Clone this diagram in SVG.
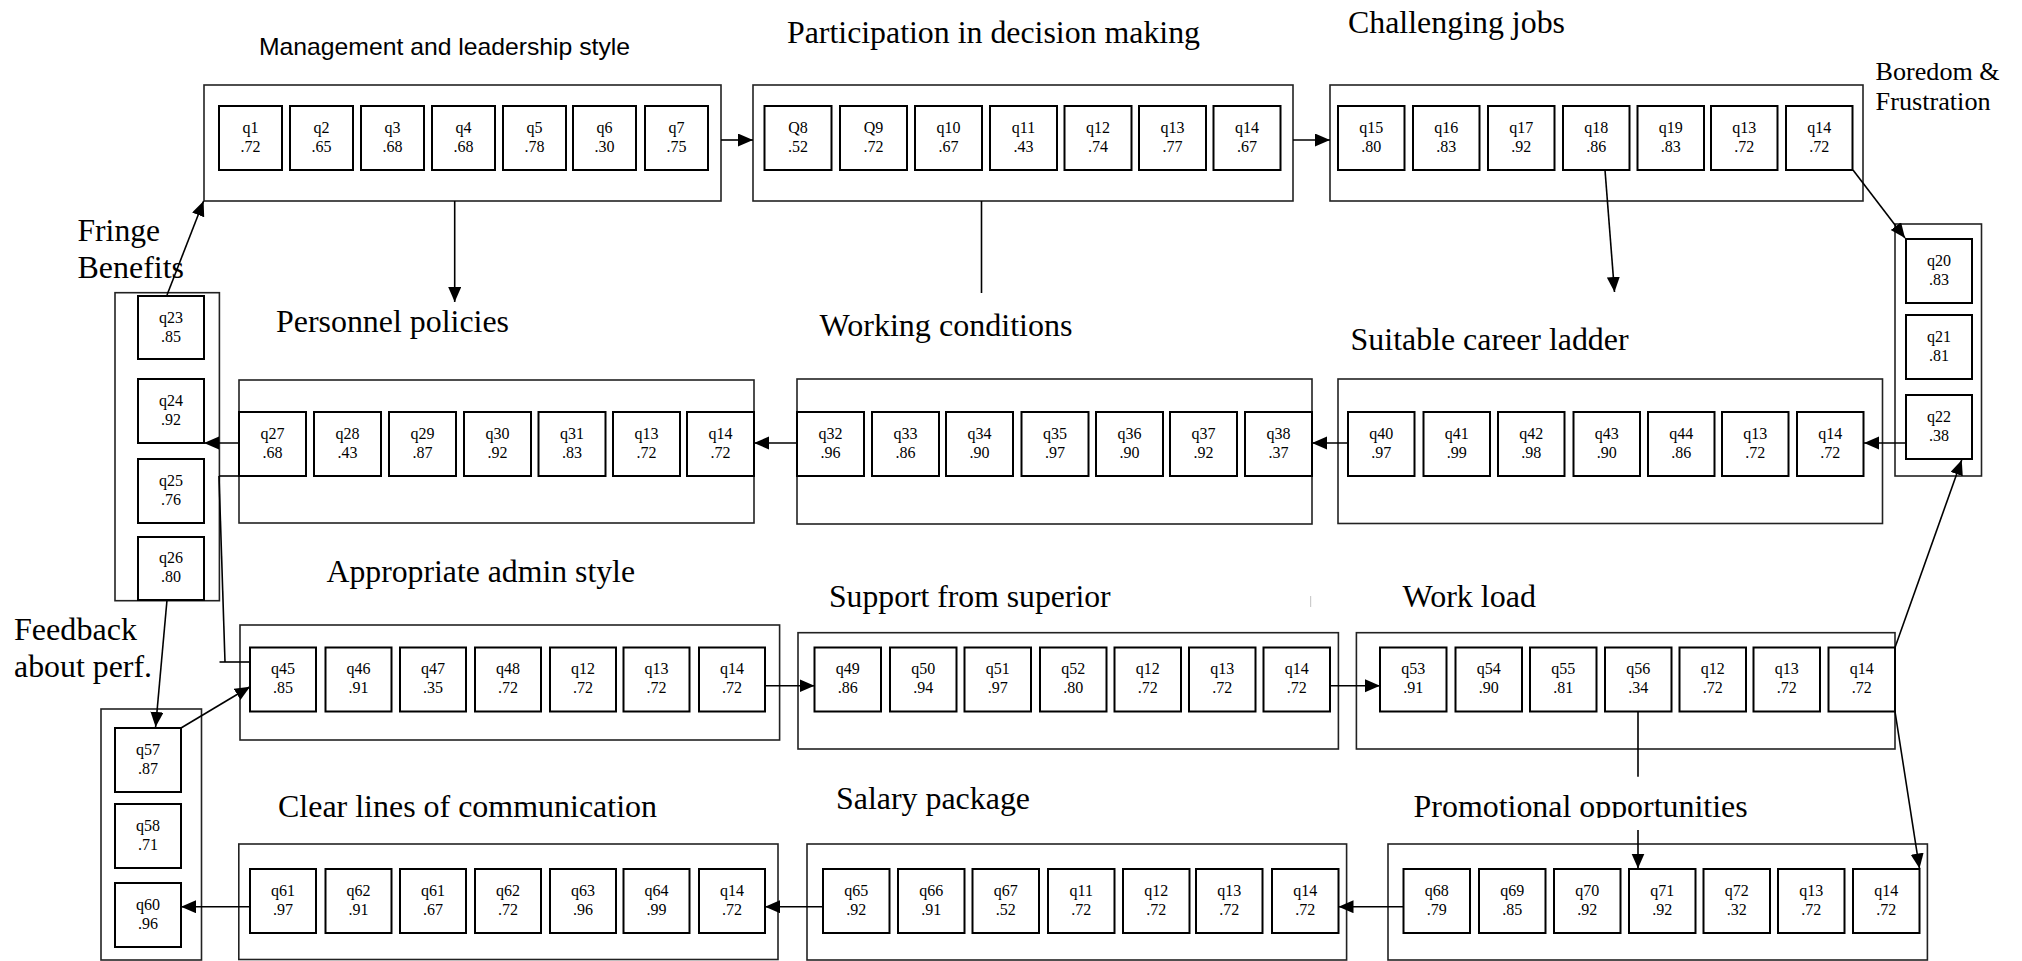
<svg xmlns="http://www.w3.org/2000/svg" width="2022" height="961" viewBox="0 0 2022 961">
  <style>
    .outer { fill: none; stroke: #222; stroke-width: 1.6; }
    .cell rect { fill: #fff; stroke: #000; stroke-width: 2; }
    .cell text { font-family: "Liberation Serif", "Times New Roman", serif; font-size: 16px; text-anchor: middle; fill: #000; }
    .title { font-family: "Liberation Serif", "Times New Roman", serif; font-size: 32px; fill: #000; }
    .title-sans { font-family: "Liberation Sans", Arial, sans-serif; font-size: 24px; fill: #000; }
    .title-sm { font-family: "Liberation Serif", "Times New Roman", serif; font-size: 26px; fill: #000; }
    .conn line, .conn polyline { stroke: #000; stroke-width: 1.6; fill: none; }
    .arrow { marker-end: url(#ah); }
  </style>
  <defs>
    <marker id="ah" markerUnits="userSpaceOnUse" markerWidth="16" markerHeight="14" refX="15" refY="6.5" orient="auto">
      <path d="M0,0 L15,6.5 L0,13 z" fill="#000"/>
    </marker>
    <clipPath id="promo-clip">
      <rect x="1400" y="770" width="400" height="48"/>
    </clipPath>
  </defs>
  <rect width="2022" height="961" fill="#fff"/>

  <!-- Management and leadership style -->
  <g id="management">
    <text class="title-sans" x="259" y="55" textLength="371" lengthAdjust="spacingAndGlyphs">Management and leadership style</text>
    <rect class="outer" x="204" y="85" width="517" height="116"/>
    <g class="cell"><rect x="219" y="106" width="63" height="64"/><text x="250.5" y="132.5">q1<tspan x="250.5" y="151.5">.72</tspan></text></g>
    <g class="cell"><rect x="290" y="106" width="63" height="64"/><text x="321.5" y="132.5">q2<tspan x="321.5" y="151.5">.65</tspan></text></g>
    <g class="cell"><rect x="361" y="106" width="63" height="64"/><text x="392.5" y="132.5">q3<tspan x="392.5" y="151.5">.68</tspan></text></g>
    <g class="cell"><rect x="432" y="106" width="63" height="64"/><text x="463.5" y="132.5">q4<tspan x="463.5" y="151.5">.68</tspan></text></g>
    <g class="cell"><rect x="503" y="106" width="63" height="64"/><text x="534.5" y="132.5">q5<tspan x="534.5" y="151.5">.78</tspan></text></g>
    <g class="cell"><rect x="573" y="106" width="63" height="64"/><text x="604.5" y="132.5">q6<tspan x="604.5" y="151.5">.30</tspan></text></g>
    <g class="cell"><rect x="645" y="106" width="63" height="64"/><text x="676.5" y="132.5">q7<tspan x="676.5" y="151.5">.75</tspan></text></g>
  </g>

  <!-- Participation in decision making -->
  <g id="participation">
    <text class="title" x="787" y="43" textLength="413" lengthAdjust="spacingAndGlyphs">Participation in decision making</text>
    <rect class="outer" x="753" y="85" width="540" height="116"/>
    <g class="cell"><rect x="764.5" y="106" width="67" height="64"/><text x="798" y="132.5">Q8<tspan x="798" y="151.5">.52</tspan></text></g>
    <g class="cell"><rect x="840" y="106" width="67" height="64"/><text x="873.5" y="132.5">Q9<tspan x="873.5" y="151.5">.72</tspan></text></g>
    <g class="cell"><rect x="915" y="106" width="67" height="64"/><text x="948.5" y="132.5">q10<tspan x="948.5" y="151.5">.67</tspan></text></g>
    <g class="cell"><rect x="990" y="106" width="67" height="64"/><text x="1023.5" y="132.5">q11<tspan x="1023.5" y="151.5">.43</tspan></text></g>
    <g class="cell"><rect x="1064.5" y="106" width="67" height="64"/><text x="1098" y="132.5">q12<tspan x="1098" y="151.5">.74</tspan></text></g>
    <g class="cell"><rect x="1139" y="106" width="67" height="64"/><text x="1172.5" y="132.5">q13<tspan x="1172.5" y="151.5">.77</tspan></text></g>
    <g class="cell"><rect x="1213.5" y="106" width="67" height="64"/><text x="1247" y="132.5">q14<tspan x="1247" y="151.5">.67</tspan></text></g>
  </g>

  <!-- Challenging jobs -->
  <g id="challenging">
    <text class="title" x="1348" y="33" textLength="217" lengthAdjust="spacingAndGlyphs">Challenging jobs</text>
    <rect class="outer" x="1330" y="85" width="533" height="116"/>
    <g class="cell"><rect x="1338" y="106" width="66.5" height="64"/><text x="1371.25" y="132.5">q15<tspan x="1371.25" y="151.5">.80</tspan></text></g>
    <g class="cell"><rect x="1413" y="106" width="66.5" height="64"/><text x="1446.25" y="132.5">q16<tspan x="1446.25" y="151.5">.83</tspan></text></g>
    <g class="cell"><rect x="1488" y="106" width="66.5" height="64"/><text x="1521.25" y="132.5">q17<tspan x="1521.25" y="151.5">.92</tspan></text></g>
    <g class="cell"><rect x="1563" y="106" width="66.5" height="64"/><text x="1596.25" y="132.5">q18<tspan x="1596.25" y="151.5">.86</tspan></text></g>
    <g class="cell"><rect x="1637.5" y="106" width="66.5" height="64"/><text x="1670.75" y="132.5">q19<tspan x="1670.75" y="151.5">.83</tspan></text></g>
    <g class="cell"><rect x="1711" y="106" width="66.5" height="64"/><text x="1744.25" y="132.5">q13<tspan x="1744.25" y="151.5">.72</tspan></text></g>
    <g class="cell"><rect x="1786" y="106" width="66.5" height="64"/><text x="1819.25" y="132.5">q14<tspan x="1819.25" y="151.5">.72</tspan></text></g>
  </g>

  <!-- Boredom & Frustration -->
  <g id="boredom">
    <text class="title-sm" x="1875.6" y="80" textLength="124" lengthAdjust="spacingAndGlyphs">Boredom &amp;</text>
    <text class="title-sm" x="1875.6" y="110" textLength="115" lengthAdjust="spacingAndGlyphs">Frustration</text>
    <rect class="outer" x="1895" y="224" width="86.5" height="252"/>
    <g class="cell"><rect x="1906" y="239" width="66" height="64"/><text x="1939" y="265.5">q20<tspan x="1939" y="284.5">.83</tspan></text></g>
    <g class="cell"><rect x="1906" y="315" width="66" height="64"/><text x="1939" y="341.5">q21<tspan x="1939" y="360.5">.81</tspan></text></g>
    <g class="cell"><rect x="1906" y="395" width="66" height="64"/><text x="1939" y="421.5">q22<tspan x="1939" y="440.5">.38</tspan></text></g>
  </g>

  <!-- Suitable career ladder -->
  <g id="career">
    <text class="title" x="1350.6" y="350" textLength="278" lengthAdjust="spacingAndGlyphs">Suitable career ladder</text>
    <rect class="outer" x="1338" y="379" width="544.5" height="144.5"/>
    <g class="cell"><rect x="1348" y="412" width="66.5" height="64"/><text x="1381.25" y="438.5">q40<tspan x="1381.25" y="457.5">.97</tspan></text></g>
    <g class="cell"><rect x="1423.5" y="412" width="66.5" height="64"/><text x="1456.75" y="438.5">q41<tspan x="1456.75" y="457.5">.99</tspan></text></g>
    <g class="cell"><rect x="1498" y="412" width="66.5" height="64"/><text x="1531.25" y="438.5">q42<tspan x="1531.25" y="457.5">.98</tspan></text></g>
    <g class="cell"><rect x="1573.5" y="412" width="66.5" height="64"/><text x="1606.75" y="438.5">q43<tspan x="1606.75" y="457.5">.90</tspan></text></g>
    <g class="cell"><rect x="1648" y="412" width="66.5" height="64"/><text x="1681.25" y="438.5">q44<tspan x="1681.25" y="457.5">.86</tspan></text></g>
    <g class="cell"><rect x="1722" y="412" width="66.5" height="64"/><text x="1755.25" y="438.5">q13<tspan x="1755.25" y="457.5">.72</tspan></text></g>
    <g class="cell"><rect x="1797" y="412" width="66.5" height="64"/><text x="1830.25" y="438.5">q14<tspan x="1830.25" y="457.5">.72</tspan></text></g>
  </g>

  <!-- Working conditions -->
  <g id="working">
    <text class="title" x="819.5" y="336" textLength="253" lengthAdjust="spacingAndGlyphs">Working conditions</text>
    <rect class="outer" x="797" y="379" width="515" height="145"/>
    <g class="cell"><rect x="797" y="412" width="67" height="64"/><text x="830.5" y="438.5">q32<tspan x="830.5" y="457.5">.96</tspan></text></g>
    <g class="cell"><rect x="872" y="412" width="67" height="64"/><text x="905.5" y="438.5">q33<tspan x="905.5" y="457.5">.86</tspan></text></g>
    <g class="cell"><rect x="946" y="412" width="67" height="64"/><text x="979.5" y="438.5">q34<tspan x="979.5" y="457.5">.90</tspan></text></g>
    <g class="cell"><rect x="1021.5" y="412" width="67" height="64"/><text x="1055" y="438.5">q35<tspan x="1055" y="457.5">.97</tspan></text></g>
    <g class="cell"><rect x="1096" y="412" width="67" height="64"/><text x="1129.5" y="438.5">q36<tspan x="1129.5" y="457.5">.90</tspan></text></g>
    <g class="cell"><rect x="1170" y="412" width="67" height="64"/><text x="1203.5" y="438.5">q37<tspan x="1203.5" y="457.5">.92</tspan></text></g>
    <g class="cell"><rect x="1245" y="412" width="67" height="64"/><text x="1278.5" y="438.5">q38<tspan x="1278.5" y="457.5">.37</tspan></text></g>
  </g>

  <!-- Personnel policies -->
  <g id="personnel">
    <text class="title" x="276" y="331.7" textLength="233" lengthAdjust="spacingAndGlyphs">Personnel policies</text>
    <rect class="outer" x="239" y="380" width="515" height="143"/>
    <g class="cell"><rect x="239" y="412" width="67" height="64"/><text x="272.5" y="438.5">q27<tspan x="272.5" y="457.5">.68</tspan></text></g>
    <g class="cell"><rect x="314" y="412" width="67" height="64"/><text x="347.5" y="438.5">q28<tspan x="347.5" y="457.5">.43</tspan></text></g>
    <g class="cell"><rect x="389" y="412" width="67" height="64"/><text x="422.5" y="438.5">q29<tspan x="422.5" y="457.5">.87</tspan></text></g>
    <g class="cell"><rect x="464" y="412" width="67" height="64"/><text x="497.5" y="438.5">q30<tspan x="497.5" y="457.5">.92</tspan></text></g>
    <g class="cell"><rect x="538.5" y="412" width="67" height="64"/><text x="572" y="438.5">q31<tspan x="572" y="457.5">.83</tspan></text></g>
    <g class="cell"><rect x="613" y="412" width="67" height="64"/><text x="646.5" y="438.5">q13<tspan x="646.5" y="457.5">.72</tspan></text></g>
    <g class="cell"><rect x="687" y="412" width="67" height="64"/><text x="720.5" y="438.5">q14<tspan x="720.5" y="457.5">.72</tspan></text></g>
  </g>

  <!-- Fringe Benefits -->
  <g id="fringe">
    <text class="title" x="77.5" y="241" textLength="82.5" lengthAdjust="spacingAndGlyphs">Fringe</text>
    <text class="title" x="77.5" y="278" textLength="106.5" lengthAdjust="spacingAndGlyphs">Benefits</text>
    <rect class="outer" x="115" y="292.7" width="104.4" height="308"/>
    <g class="cell"><rect x="138" y="296" width="66" height="63"/><text x="171" y="322.5">q23<tspan x="171" y="341.5">.85</tspan></text></g>
    <g class="cell"><rect x="138" y="379" width="66" height="64"/><text x="171" y="405.5">q24<tspan x="171" y="424.5">.92</tspan></text></g>
    <g class="cell"><rect x="138" y="459" width="66" height="64"/><text x="171" y="485.5">q25<tspan x="171" y="504.5">.76</tspan></text></g>
    <g class="cell"><rect x="138" y="537" width="66" height="63"/><text x="171" y="562.5">q26<tspan x="171" y="581.5">.80</tspan></text></g>
  </g>

  <!-- Appropriate admin style -->
  <g id="admin">
    <text class="title" x="326.5" y="581.7" textLength="308.5" lengthAdjust="spacingAndGlyphs">Appropriate admin style</text>
    <rect class="outer" x="240" y="625" width="539.6" height="115"/>
    <g class="cell"><rect x="250" y="647.5" width="66" height="64"/><text x="283" y="674">q45<tspan x="283" y="693">.85</tspan></text></g>
    <g class="cell"><rect x="325.5" y="647.5" width="66" height="64"/><text x="358.5" y="674">q46<tspan x="358.5" y="693">.91</tspan></text></g>
    <g class="cell"><rect x="400" y="647.5" width="66" height="64"/><text x="433" y="674">q47<tspan x="433" y="693">.35</tspan></text></g>
    <g class="cell"><rect x="475" y="647.5" width="66" height="64"/><text x="508" y="674">q48<tspan x="508" y="693">.72</tspan></text></g>
    <g class="cell"><rect x="550" y="647.5" width="66" height="64"/><text x="583" y="674">q12<tspan x="583" y="693">.72</tspan></text></g>
    <g class="cell"><rect x="623.5" y="647.5" width="66" height="64"/><text x="656.5" y="674">q13<tspan x="656.5" y="693">.72</tspan></text></g>
    <g class="cell"><rect x="699" y="647.5" width="66" height="64"/><text x="732" y="674">q14<tspan x="732" y="693">.72</tspan></text></g>
  </g>

  <!-- Support from superior -->
  <g id="support">
    <text class="title" x="829" y="606.7" textLength="281.6" lengthAdjust="spacingAndGlyphs">Support from superior</text>
    <rect class="outer" x="798" y="632.7" width="540.4" height="116.3"/>
    <g class="cell"><rect x="814.5" y="647.5" width="66.5" height="64"/><text x="847.75" y="674">q49<tspan x="847.75" y="693">.86</tspan></text></g>
    <g class="cell"><rect x="890" y="647.5" width="66.5" height="64"/><text x="923.25" y="674">q50<tspan x="923.25" y="693">.94</tspan></text></g>
    <g class="cell"><rect x="964.5" y="647.5" width="66.5" height="64"/><text x="997.75" y="674">q51<tspan x="997.75" y="693">.97</tspan></text></g>
    <g class="cell"><rect x="1040" y="647.5" width="66.5" height="64"/><text x="1073.25" y="674">q52<tspan x="1073.25" y="693">.80</tspan></text></g>
    <g class="cell"><rect x="1114.5" y="647.5" width="66.5" height="64"/><text x="1147.75" y="674">q12<tspan x="1147.75" y="693">.72</tspan></text></g>
    <g class="cell"><rect x="1189" y="647.5" width="66.5" height="64"/><text x="1222.25" y="674">q13<tspan x="1222.25" y="693">.72</tspan></text></g>
    <g class="cell"><rect x="1263.5" y="647.5" width="66.5" height="64"/><text x="1296.75" y="674">q14<tspan x="1296.75" y="693">.72</tspan></text></g>
  </g>

  <!-- Work load -->
  <g id="workload">
    <text class="title" x="1402.5" y="606.7" textLength="133.5" lengthAdjust="spacingAndGlyphs">Work load</text>
    <rect class="outer" x="1356.4" y="632.7" width="538.6" height="116.3"/>
    <g class="cell"><rect x="1380" y="647.5" width="66.5" height="64"/><text x="1413.25" y="674">q53<tspan x="1413.25" y="693">.91</tspan></text></g>
    <g class="cell"><rect x="1455.5" y="647.5" width="66.5" height="64"/><text x="1488.75" y="674">q54<tspan x="1488.75" y="693">.90</tspan></text></g>
    <g class="cell"><rect x="1530" y="647.5" width="66.5" height="64"/><text x="1563.25" y="674">q55<tspan x="1563.25" y="693">.81</tspan></text></g>
    <g class="cell"><rect x="1605" y="647.5" width="66.5" height="64"/><text x="1638.25" y="674">q56<tspan x="1638.25" y="693">.34</tspan></text></g>
    <g class="cell"><rect x="1679.5" y="647.5" width="66.5" height="64"/><text x="1712.75" y="674">q12<tspan x="1712.75" y="693">.72</tspan></text></g>
    <g class="cell"><rect x="1753.5" y="647.5" width="66.5" height="64"/><text x="1786.75" y="674">q13<tspan x="1786.75" y="693">.72</tspan></text></g>
    <g class="cell"><rect x="1828.5" y="647.5" width="66.5" height="64"/><text x="1861.75" y="674">q14<tspan x="1861.75" y="693">.72</tspan></text></g>
  </g>

  <!-- Feedback about performance -->
  <g id="feedback">
    <text class="title" x="14" y="640" textLength="123" lengthAdjust="spacingAndGlyphs">Feedback</text>
    <text class="title" x="14" y="676.7" textLength="138" lengthAdjust="spacingAndGlyphs">about perf.</text>
    <rect class="outer" x="101" y="709" width="100.5" height="251"/>
    <g class="cell"><rect x="115" y="728" width="66" height="64"/><text x="148" y="754.5">q57<tspan x="148" y="773.5">.87</tspan></text></g>
    <g class="cell"><rect x="115" y="804" width="66" height="64"/><text x="148" y="830.5">q58<tspan x="148" y="849.5">.71</tspan></text></g>
    <g class="cell"><rect x="115" y="883" width="66" height="64"/><text x="148" y="909.5">q60<tspan x="148" y="928.5">.96</tspan></text></g>
  </g>

  <!-- Clear lines of communication -->
  <g id="communication">
    <text class="title" x="278" y="817.3" textLength="379" lengthAdjust="spacingAndGlyphs">Clear lines of communication</text>
    <rect class="outer" x="238.8" y="844" width="539.2" height="115.5"/>
    <g class="cell"><rect x="250" y="869" width="66" height="64"/><text x="283" y="895.5">q61<tspan x="283" y="914.5">.97</tspan></text></g>
    <g class="cell"><rect x="325.5" y="869" width="66" height="64"/><text x="358.5" y="895.5">q62<tspan x="358.5" y="914.5">.91</tspan></text></g>
    <g class="cell"><rect x="400" y="869" width="66" height="64"/><text x="433" y="895.5">q61<tspan x="433" y="914.5">.67</tspan></text></g>
    <g class="cell"><rect x="475" y="869" width="66" height="64"/><text x="508" y="895.5">q62<tspan x="508" y="914.5">.72</tspan></text></g>
    <g class="cell"><rect x="550" y="869" width="66" height="64"/><text x="583" y="895.5">q63<tspan x="583" y="914.5">.96</tspan></text></g>
    <g class="cell"><rect x="623.5" y="869" width="66" height="64"/><text x="656.5" y="895.5">q64<tspan x="656.5" y="914.5">.99</tspan></text></g>
    <g class="cell"><rect x="699" y="869" width="66" height="64"/><text x="732" y="895.5">q14<tspan x="732" y="914.5">.72</tspan></text></g>
  </g>

  <!-- Salary package -->
  <g id="salary">
    <text class="title" x="836" y="809.3" textLength="194" lengthAdjust="spacingAndGlyphs">Salary package</text>
    <rect class="outer" x="807" y="844" width="539.6" height="116"/>
    <g class="cell"><rect x="823" y="869" width="66.5" height="64"/><text x="856.25" y="895.5">q65<tspan x="856.25" y="914.5">.92</tspan></text></g>
    <g class="cell"><rect x="898" y="869" width="66.5" height="64"/><text x="931.25" y="895.5">q66<tspan x="931.25" y="914.5">.91</tspan></text></g>
    <g class="cell"><rect x="972.5" y="869" width="66.5" height="64"/><text x="1005.75" y="895.5">q67<tspan x="1005.75" y="914.5">.52</tspan></text></g>
    <g class="cell"><rect x="1048" y="869" width="66.5" height="64"/><text x="1081.25" y="895.5">q11<tspan x="1081.25" y="914.5">.72</tspan></text></g>
    <g class="cell"><rect x="1123" y="869" width="66.5" height="64"/><text x="1156.25" y="895.5">q12<tspan x="1156.25" y="914.5">.72</tspan></text></g>
    <g class="cell"><rect x="1196" y="869" width="66.5" height="64"/><text x="1229.25" y="895.5">q13<tspan x="1229.25" y="914.5">.72</tspan></text></g>
    <g class="cell"><rect x="1272" y="869" width="66.5" height="64"/><text x="1305.25" y="895.5">q14<tspan x="1305.25" y="914.5">.72</tspan></text></g>
  </g>

  <!-- Promotional opportunities -->
  <g id="promotional">
    <text class="title" x="1413.6" y="817.3" textLength="334" lengthAdjust="spacingAndGlyphs" clip-path="url(#promo-clip)">Promotional opportunities</text>
    <rect class="outer" x="1388" y="844" width="539.4" height="116"/>
    <g class="cell"><rect x="1403.5" y="869" width="66.5" height="64"/><text x="1436.75" y="895.5">q68<tspan x="1436.75" y="914.5">.79</tspan></text></g>
    <g class="cell"><rect x="1479" y="869" width="66.5" height="64"/><text x="1512.25" y="895.5">q69<tspan x="1512.25" y="914.5">.85</tspan></text></g>
    <g class="cell"><rect x="1554" y="869" width="66.5" height="64"/><text x="1587.25" y="895.5">q70<tspan x="1587.25" y="914.5">.92</tspan></text></g>
    <g class="cell"><rect x="1629" y="869" width="66.5" height="64"/><text x="1662.25" y="895.5">q71<tspan x="1662.25" y="914.5">.92</tspan></text></g>
    <g class="cell"><rect x="1703.5" y="869" width="66.5" height="64"/><text x="1736.75" y="895.5">q72<tspan x="1736.75" y="914.5">.32</tspan></text></g>
    <g class="cell"><rect x="1778" y="869" width="66.5" height="64"/><text x="1811.25" y="895.5">q13<tspan x="1811.25" y="914.5">.72</tspan></text></g>
    <g class="cell"><rect x="1853" y="869" width="66.5" height="64"/><text x="1886.25" y="895.5">q14<tspan x="1886.25" y="914.5">.72</tspan></text></g>
  </g>

  <!-- Connectors -->
  <g id="connectors" class="conn">
    <line class="arrow" x1="721" y1="140" x2="753" y2="140"/>
    <line class="arrow" x1="1293" y1="140" x2="1330" y2="140"/>
    <line class="arrow" x1="454.7" y1="201" x2="454.7" y2="302"/>
    <line x1="981.5" y1="201" x2="981.5" y2="293"/>
    <line class="arrow" x1="1605" y1="170" x2="1614.5" y2="292"/>
    <line class="arrow" x1="1853" y1="170" x2="1905" y2="238"/>
    <line class="arrow" x1="1906" y1="443" x2="1864" y2="443"/>
    <line class="arrow" x1="1348" y1="443" x2="1312" y2="443"/>
    <line class="arrow" x1="797" y1="443" x2="754" y2="443"/>
    <line class="arrow" x1="239" y1="443" x2="204" y2="443"/>
    <line x1="219" y1="476" x2="239" y2="476"/>
    <line x1="219" y1="476" x2="225" y2="662"/>
    <line x1="219.5" y1="662" x2="250" y2="662"/>
    <line class="arrow" x1="167" y1="295" x2="203.6" y2="201"/>
    <line class="arrow" x1="167" y1="600" x2="155.6" y2="727"/>
    <line class="arrow" x1="181" y1="728" x2="250" y2="686.7"/>
    <line class="arrow" x1="765" y1="685.7" x2="814.5" y2="685.7"/>
    <line class="arrow" x1="1330" y1="685.7" x2="1380" y2="685.7"/>
    <line class="arrow" x1="1895" y1="647.5" x2="1961.7" y2="460"/>
    <line class="arrow" x1="1895" y1="711.5" x2="1919.5" y2="868.5"/>
    <line x1="1638" y1="711.5" x2="1638" y2="776.7"/>
    <line class="arrow" x1="1638" y1="830" x2="1638" y2="868.5"/>
    <line class="arrow" x1="1403.5" y1="906.7" x2="1338.5" y2="906.7"/>
    <line class="arrow" x1="823" y1="906.7" x2="765" y2="906.7"/>
    <line class="arrow" x1="250" y1="906.7" x2="181" y2="906.7"/>
  </g>

  <!-- faint stray stroke near the work load heading -->
  <line x1="1310.6" y1="596" x2="1310.6" y2="607" stroke="#ccc" stroke-width="1.2"/>
</svg>
